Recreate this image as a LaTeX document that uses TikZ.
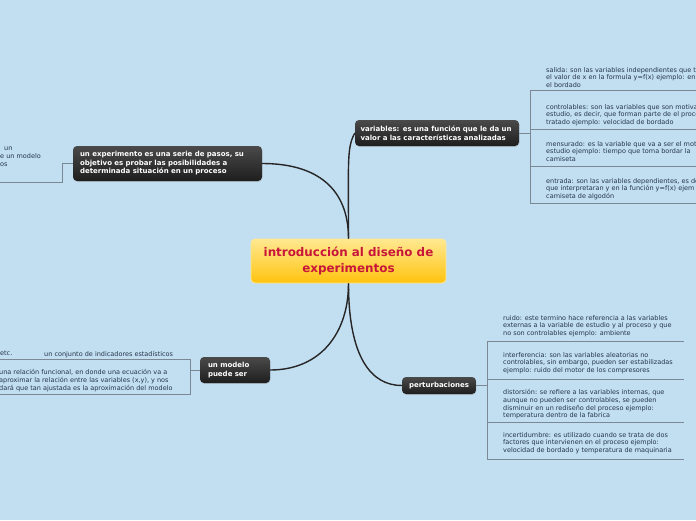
\documentclass[tikz,border=0pt]{standalone}
\usepackage{fontspec}
\setmainfont{DejaVu Sans}
\usepackage{xcolor}
\usetikzlibrary{shadows}
\definecolor{paper}{HTML}{C2DEF1}
\definecolor{leafink}{HTML}{26364A}
\definecolor{rulegray}{HTML}{7C8894}
\definecolor{limbink}{HTML}{262626}
\definecolor{titlered}{HTML}{C8163A}
\definecolor{goldtop}{HTML}{FFE890}
\definecolor{goldmid}{HTML}{FFD650}
\definecolor{goldbot}{HTML}{FFC30E}
\definecolor{slatetop}{HTML}{4A4A4A}
\definecolor{slatebot}{HTML}{1E1E1E}
\tikzset{
  topic/.style={rounded corners=4pt, top color=goldtop, bottom color=goldbot, middle color=goldmid,
    draw=goldtop, line width=0.8pt, text=titlered, font=\bfseries\fontsize{11.9}{15.5}\selectfont,
    align=center, minimum width=195pt, minimum height=44pt, inner sep=0pt},
  branch/.style={rounded corners=4pt, top color=slatetop, bottom color=slatebot, text=white,
    font=\bfseries\fontsize{7}{8.5}\selectfont, align=left, inner xsep=7pt, inner ysep=0pt,
    drop shadow={opacity=0.3, shadow xshift=0.4pt, shadow yshift=-0.8pt}},
  leaf/.style={anchor=north west, inner sep=0pt, align=left, text=leafink, font=\fontsize{6.5}{7.8}\selectfont},
  bracketline/.style={rulegray, line width=1pt},
  limb/.style={limbink, line width=1.4pt}
}

\begin{document}
\begin{tikzpicture}[x=1pt,y=-1pt]
      \useasboundingbox (0,0) rectangle (696,520);
      \fill[paper] (0,0) rectangle (696,520);
      \clip (0,0) rectangle (696,520);

      \node[topic] (intro) at (348.5,261) {introducción al diseño de\\experimentos};
      \node[branch, text width=175pt, minimum height=35pt] (expt) at (167.5,163.5) {un experimento es una serie de pasos, su\\objetivo es probar las posibilidades a\\determinada situación en un proceso};
      \node[branch, text width=153pt, inner xsep=5.5pt, minimum height=26pt] (vars) at (437,133) {variables: es una función que le da un\\valor a las características analizadas};
      \node[branch, text width=54pt, inner xsep=8pt, minimum height=26pt] (model) at (235,370) {un modelo\\puede ser};
      \node[branch, align=center, minimum width=74pt, minimum height=17pt] (pert) at (439,385.5) {perturbaciones};

      \draw[limb] (intro.north) .. controls +(0,-50) and +(55,0) .. (expt.east);
      \draw[limb] (intro.north) .. controls +(0,-80) and +(-8,15) .. (vars.west);
      \draw[limb] (intro.south) .. controls +(0,50) and +(50,0) .. (model.east);
      \draw[limb] (intro.south) .. controls +(0,75) and +(-30,0) .. (pert.west);

      \coordinate (varsfork) at (530,133);
      \draw[bracketline] (vars.east) -- (varsfork);
      \draw[bracketline] (530,90) -- (530,203);
      \draw[bracketline] (530,90) -- (696,90);
      \draw[bracketline] (530,129) -- (696,129);
      \draw[bracketline] (530,166) -- (696,166);
      \draw[bracketline] (530,203) -- (696,203);

      \coordinate (pertfork) at (487,385.5);
      \draw[bracketline] (pert.east) -- (pertfork);
      \draw[bracketline] (487,341) -- (487,459);
      \draw[bracketline] (487,341) -- (684,341);
      \draw[bracketline] (487,379) -- (684,379);
      \draw[bracketline] (487,422) -- (684,422);
      \draw[bracketline] (487,459) -- (684,459);

      \coordinate (exptfork) at (62,163.5);
      \draw[bracketline] (expt.west) -- (exptfork) |- (0,182);

      \coordinate (modelfork) at (190,370);
      \draw[bracketline] (model.west) -- (modelfork);
      \draw[bracketline] (0,359) -- (190,359) -- (190,394) -- (0,394);

      \node[leaf] (salida) at (546,67) {salida: son las variables independientes que t\\el valor de x en la formula y=f(x) ejemplo: en\\el bordado};
      \node[leaf] (controlables) at (546,104) {controlables: son las variables que son motiva\\estudio, es decir, que forman parte de el proce\\tratado ejemplo: velocidad de bordado};
      \node[leaf] (mensurado) at (546,141) {mensurado: es la variable que va a ser el mot\\estudio ejemplo: tiempo que toma bordar la\\camiseta};
      \node[leaf] (entrada) at (546,178) {entrada: son las variables dependientes, es de\\que interpretaran y en la función y=f(x) ejem\\camiseta de algodón};

      \node[leaf] (ruido) at (503,315) {ruido: este termino hace referencia a las variables\\externas a la variable de estudio y al proceso y que\\no son controlables ejemplo: ambiente};
      \node[leaf] (interferencia) at (503,352) {interferencia: son las variables aleatorias no\\controlables, sin embargo, pueden ser estabilizadas\\ejemplo: ruido del motor de los compresores};
      \node[leaf] (distorsion) at (503,389) {distorsión: se refiere a las variables internas, que\\aunque no pueden ser controlables, se pueden\\disminuir en un rediseño del proceso ejemplo:\\temperatura dentro de la fabrica};
      \node[leaf] (incertidumbre) at (503,432) {incertidumbre: es utilizado cuando se trata de dos\\factores que intervienen en el proceso ejemplo:\\velocidad de bordado y temperatura de maquinaria};

      \node[leaf] (exptnote) at (0,147) {\hspace*{4pt}un\\e un modelo\\os};
      \node[leaf] (etc) at (0,351) {etc.};
      \node[leaf] (conjunto) at (44,351) {un conjunto de indicadores estadísticos};
      \node[leaf] (relacion) at (-1,369) {una relación funcional, en donde una ecuación va a\\aproximar la relación entre las variables (x,y), y nos\\dará que tan ajustada es la aproximación del modelo};
    \end{tikzpicture}
\end{document}
